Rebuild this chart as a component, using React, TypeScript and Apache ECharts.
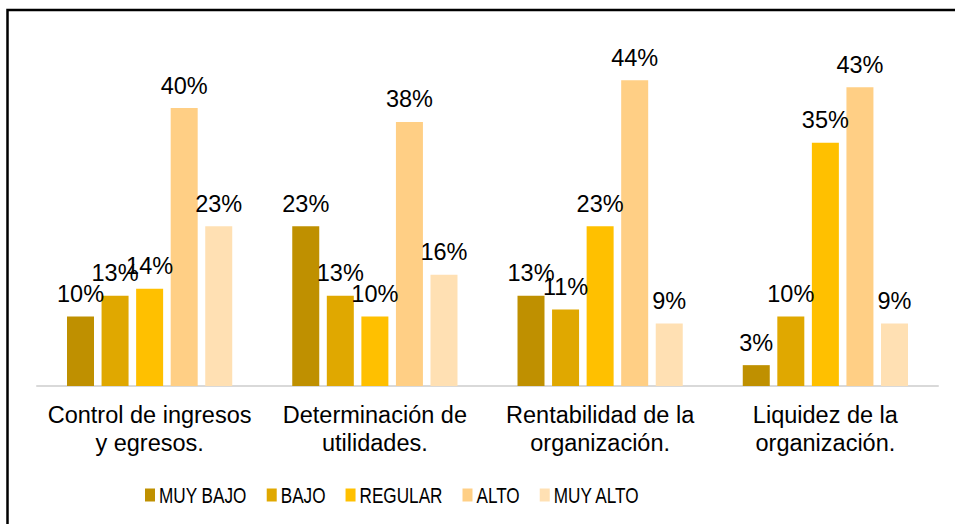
import React, { useEffect, useRef } from "react";
import * as echarts from "echarts";

const categories = [
  "Control de ingresos\ny egresos.",
  "Determinación de\nutilidades.",
  "Rentabilidad de la\norganización.",
  "Liquidez de la\norganización.",
];
const seriesNames = ["MUY BAJO", "BAJO", "REGULAR", "ALTO", "MUY ALTO"];
const muyBajo = [10, 23, 13, 3];
const bajo = [13, 13, 11, 10];
const regular = [14, 10, 23, 35];
const alto = [40, 38, 44, 43];
const muyAlto = [23, 16, 9, 9];
const colors = ["#BF9000", "#E0A800", "#FFC000", "#FFCF85", "#FFE0B3"];

export default function App() {
  const ref = useRef<HTMLDivElement>(null);
  useEffect(() => {
    if (!ref.current) return;
    const chart = echarts.init(ref.current, null, { renderer: "svg" });
    const data = [muyBajo, bajo, regular, alto, muyAlto];
    const font = "Liberation Sans, Arial, sans-serif";

    // Legend drawn as graphic so its text can be horizontally condensed like the reference
    const legendFontSize = 22;
    const legendScaleX = 0.78;
    const ctx = document.createElement("canvas").getContext("2d");
    if (ctx) ctx.font = `${legendFontSize}px Liberation Sans, Arial, sans-serif`;
    const legendEls: any[] = [];
    let lx = 145;
    const ly = 495;
    seriesNames.forEach((name, i) => {
      legendEls.push({
        type: "rect",
        shape: { x: lx, y: ly - 6.5, width: 10, height: 13 },
        style: { fill: colors[i] },
        silent: true,
      });
      const w = (ctx ? ctx.measureText(name).width : name.length * 12) * legendScaleX;
      legendEls.push({
        type: "text",
        x: lx + 14,
        y: ly,
        scaleX: legendScaleX,
        style: {
          text: name,
          fontSize: legendFontSize,
          fontFamily: font,
          fill: "#000",
          verticalAlign: "middle",
          align: "left",
        },
        silent: true,
      });
      lx += 14 + w + 20;
    });

    chart.setOption({
      animation: false,
      backgroundColor: "#ffffff",
      grid: { left: 37, right: 17, top: 38.5, bottom: 138 },
      xAxis: {
        type: "category",
        data: categories,
        axisLine: { lineStyle: { color: "#D9D9D9", width: 2 } },
        axisTick: { show: false },
        axisLabel: {
          color: "#000",
          fontSize: 23.5,
          fontFamily: font,
          lineHeight: 28,
          margin: 15,
          interval: 0,
        },
      },
      yAxis: {
        type: "value",
        min: 0,
        max: 50,
        show: false,
        splitLine: { show: false },
      },
      legend: { show: false, data: seriesNames },
      series: seriesNames.map((name, i) => ({
        name,
        type: "bar",
        data: data[i],
        barWidth: 27,
        barGap: "28%",
        itemStyle: { color: colors[i] },
        label: {
          show: true,
          position: "top",
          distance: 10.5,
          formatter: "{c}%",
          color: "#000",
          fontSize: 23.5,
          fontFamily: font,
        },
      })),
      graphic: [
        ...legendEls,
        {
          type: "rect",
          shape: { x: 7.5, y: 10, width: 1000, height: 600 },
          style: { fill: "none", stroke: "#000", lineWidth: 2.5 },
          silent: true,
          z: 100,
        },
      ],
    });
    return () => chart.dispose();
  }, []);
  return (
    <div
      ref={ref}
      style={{ position: "absolute", left: 0, top: 0, width: 955, height: 524 }}
    />
  );
}
